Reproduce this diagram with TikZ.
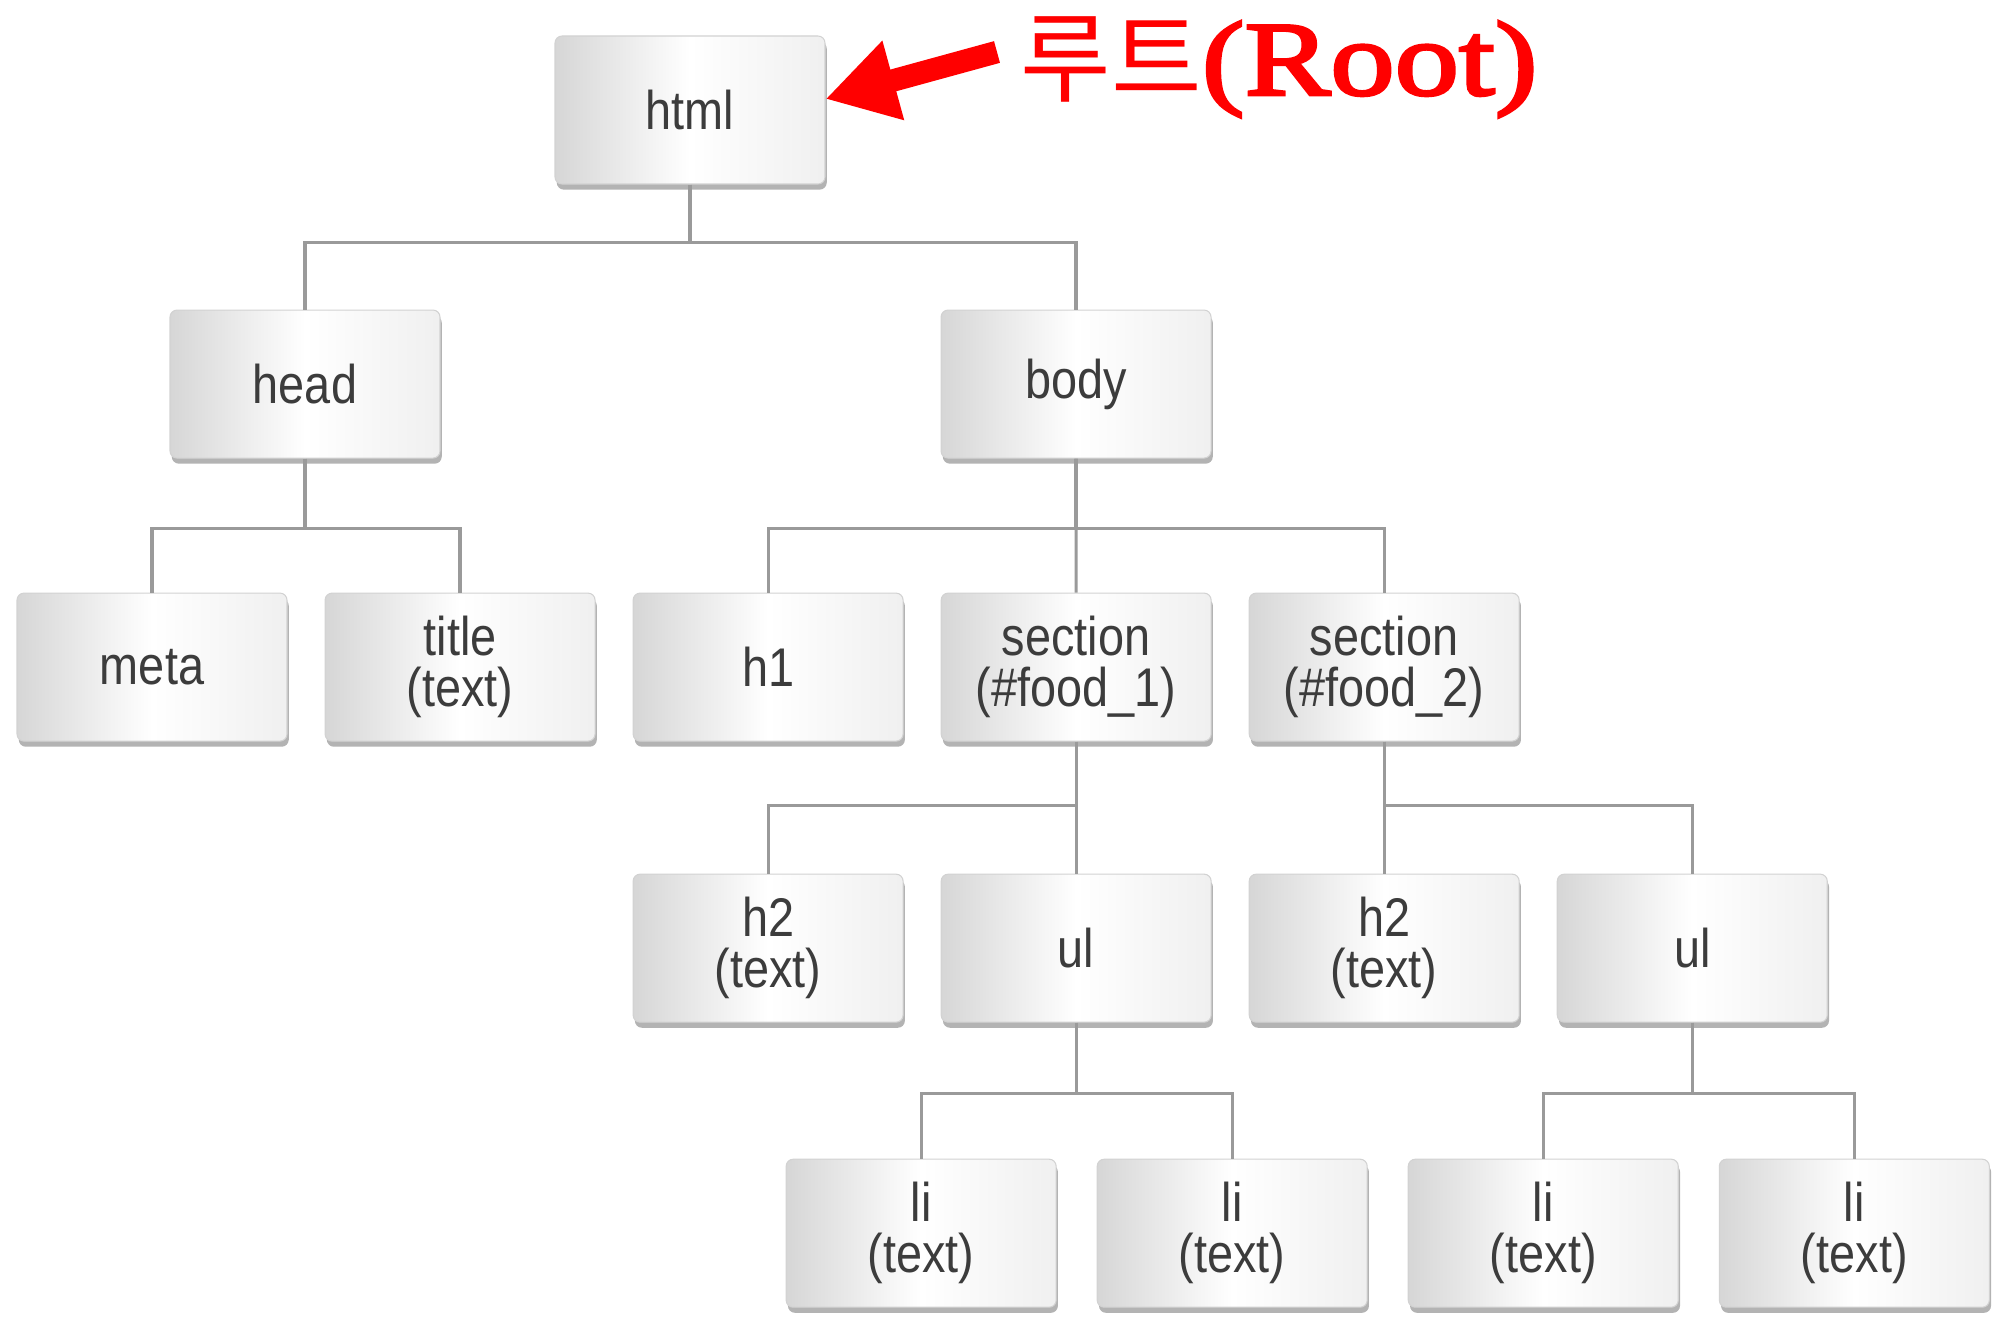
\documentclass[tikz,border=0pt]{standalone}
\usepackage{fontspec}
\setmainfont{Liberation Sans}[FakeStretch=0.86]
\newfontfamily\korfont{Noto Sans CJK KR}
\newfontfamily\rootfont{Liberation Serif}[FakeStretch=1.22,FakeBold=3]
\usetikzlibrary{arrows.meta,positioning,shadows}
\definecolor{tagtext}{HTML}{3C3C3C}
\definecolor{linkgray}{HTML}{9A9A9A}
\definecolor{edgegray}{HTML}{D6D6D6}

\begin{document}
\begin{tikzpicture}[
  x=0.1mm, y=-0.1mm,
  >=Latex,
  tag/.style={rectangle, rounded corners=2pt, draw=gray!35, line width=0.3pt, left color=edgegray, right color=gray!12, middle color=white, drop shadow={shadow xshift=0.5pt, shadow yshift=-1.6pt, opacity=0.6}, align=center, inner sep=0pt, minimum width=27mm, minimum height=14.8mm, text=tagtext, font=\fontsize{15.5}{14.5}\selectfont},
  link/.style={draw=linkgray, line width=0.9pt},
  rootarrow/.style={draw=red, line width=6.4pt, -{Triangle[length=20pt,width=22pt]}}
]
\useasboundingbox (0,0) rectangle (2000,1321);

\node[tag] (html) at (690,110) {html};
\node[tag, below=12.5mm of html, xshift=-38.5mm] (head) {head};
\node[tag, right=50mm of head] (body) {body};
\node[tag, below=13.4mm of head, xshift=-15.3mm] (meta) {meta};
\node[tag, right=3.7mm of meta] (title) {title\\(text)};
\node[tag, right=3.7mm of title] (h1) {h1};
\node[tag, right=3.7mm of h1] (sectA) {section\\(\#food\_1)};
\node[tag, right=3.7mm of sectA] (sectB) {section\\(\#food\_2)};
\node[tag, below=13.2mm of h1] (hA) {h2\\(text)};
\node[tag, right=3.7mm of hA] (ulA) {ul};
\node[tag, right=3.7mm of ulA] (hB) {h2\\(text)};
\node[tag, right=3.7mm of hB] (ulB) {ul};
\node[tag, below=13.6mm of ulA, xshift=-15.5mm] (liA) {li\\(text)};
\node[tag, right=4mm of liA] (liB) {li\\(text)};
\node[tag, right=4mm of liB] (liC) {li\\(text)};
\node[tag, right=4mm of liC] (liD) {li\\(text)};

\node[text=red, anchor=west, inner sep=0pt] (rootlabel) at (1020,67) {{\korfont\fontsize{28}{28}\selectfont 루트}{\rootfont\fontsize{30}{30}\selectfont (Root)}};

\draw[link] (html.south) -- ++(0,58) -| (head.north);
\draw[link] (html.south) -- ++(0,58) -| (body.north);
\draw[link] (head.south) -- ++(0,70) -| (meta.north);
\draw[link] (head.south) -- ++(0,70) -| (title.north);
\draw[link] (body.south) -- ++(0,70) -| (h1.north);
\draw[link] (body.south) -- (sectA.north);
\draw[link] (body.south) -- ++(0,70) -| (sectB.north);
\draw[link] (sectA.south) -- ++(0,64) -| (hA.north);
\draw[link] (sectA.south) -- (ulA.north);
\draw[link] (sectB.south) -- (hB.north);
\draw[link] (sectB.south) -- ++(0,64) -| (ulB.north);
\draw[link] (ulA.south) -- ++(0,71) -| (liA.north);
\draw[link] (ulA.south) -- ++(0,71) -| (liB.north);
\draw[link] (ulB.south) -- ++(0,71) -| (liC.north);
\draw[link] (ulB.south) -- ++(0,71) -| (liD.north);

\draw[rootarrow] ([xshift=-2.3mm, yshift=1.5mm]rootlabel.west) -- ([yshift=1.1mm]html.east);
\end{tikzpicture}
\end{document}
